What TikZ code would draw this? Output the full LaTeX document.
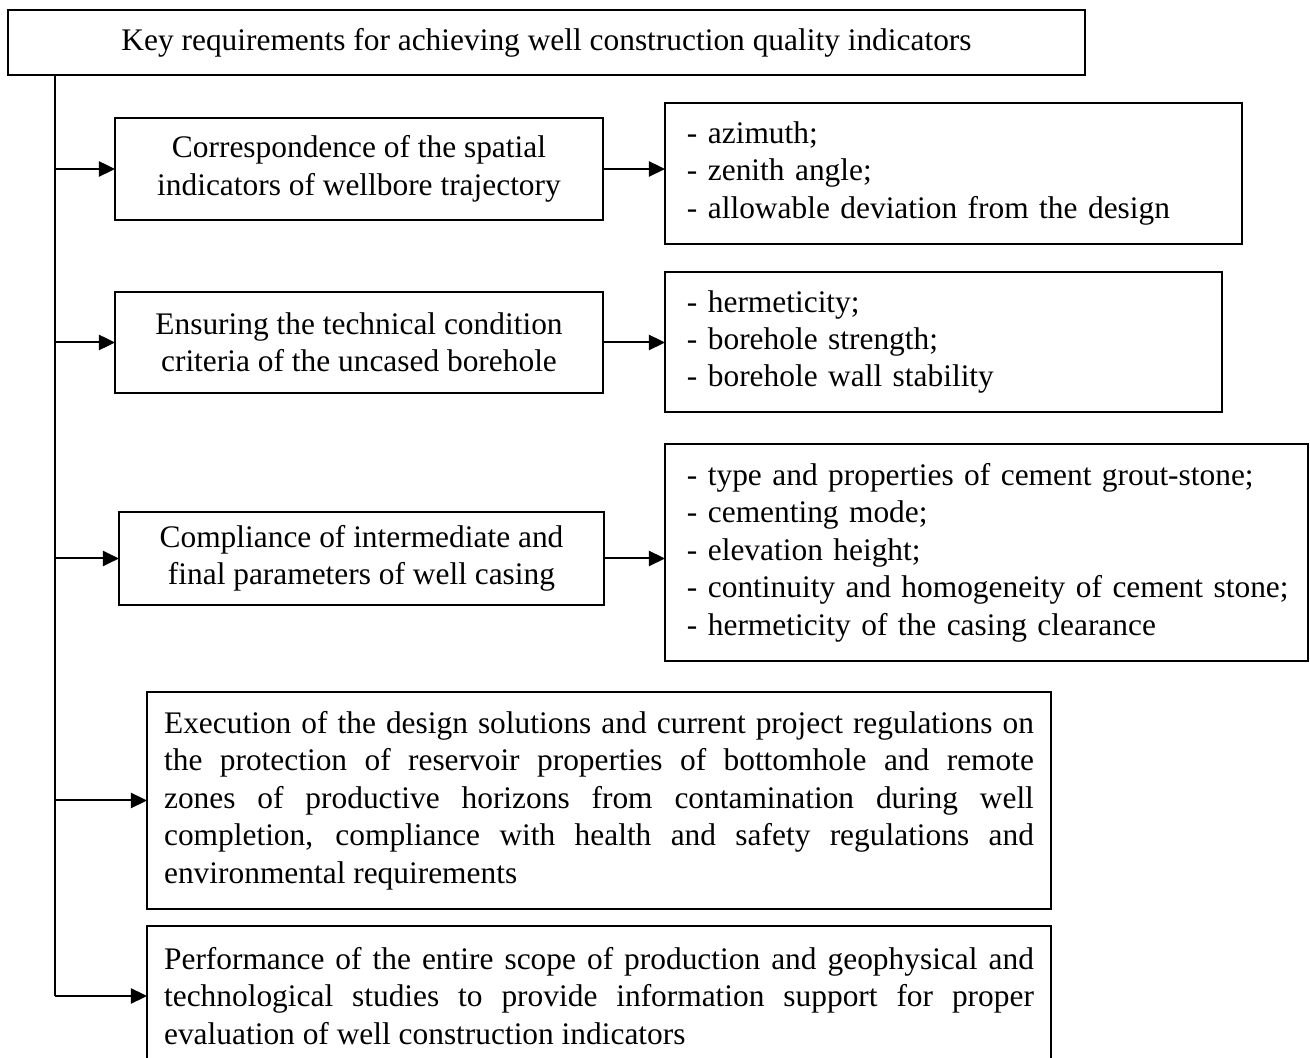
\documentclass[tikz,border=0pt]{standalone}
\usepackage{fontspec}
\setmainfont{Liberation Serif}
\usetikzlibrary{arrows.meta}
\begin{document}
\begin{tikzpicture}[x=0.43pt,y=-0.43pt,
  bx/.style={draw, line width=0.86pt, outer sep=0pt, inner sep=0pt,
    font=\fontsize{13.5pt}{16.1pt}\selectfont},
  ctr/.style={bx, align=center},
  lft/.style={bx, align=left},
  jst/.style={bx, align=justify},
  ln/.style={line width=0.86pt},
  arr/.style={line width=0.86pt, -{Triangle[length=6.9pt,width=6.5pt]}}]
\clip (0,0) rectangle (1310,1058);
\fill[white] (0,0) rectangle (1310,1058);

\node[ctr, minimum width=463.1pt, minimum height=27.95pt] (title) at (546.5,42.5)
  {Key requirements for achieving well construction quality indicators};

\node[ctr, minimum width=209.8pt, minimum height=43.9pt] (a1) at (359,169)
  {Correspondence of the spatial\\indicators of wellbore trajectory};
\node[lft, minimum width=248.1pt, minimum height=60.6pt, text width=229.2pt] (b1) at (953.5,173.5)
  {\mbox{- azimuth;}\\\mbox{- zenith angle;}\\\mbox{- allowable deviation from the design}};

\node[ctr, minimum width=209.8pt, minimum height=43.4pt] (a2) at (359,342.5)
  {Ensuring the technical condition\\criteria of the uncased borehole};
\node[lft, minimum width=239.5pt, minimum height=60.2pt, text width=220.6pt] (b2) at (943.5,342)
  {\mbox{- hermeticity;}\\\mbox{- borehole strength;}\\\mbox{- borehole wall stability}};

\node[ctr, minimum width=208.6pt, minimum height=40pt] (a3) at (361.5,558.5)
  {Compliance of intermediate and\\final parameters of well casing};
\node[lft, minimum width=276.5pt, minimum height=93.3pt, text width=257.6pt] (b3) at (986.5,552.5)
  {\mbox{- type and properties of cement grout-stone;}\\\mbox{- cementing mode;}\\\mbox{- elevation height;}\\\mbox{- continuity and homogeneity of cement stone;}\\\mbox{- hermeticity of the casing clearance}};

\node[jst, minimum width=388.7pt, minimum height=93.3pt, text width=374pt] (c) at (599,800.5)
  {Execution of the design solutions and current project regulations on\linebreak
   the protection of reservoir properties of bottomhole and remote\linebreak
   zones of productive horizons from contamination during well\linebreak
   completion, compliance with health and safety regulations and\linebreak
   environmental requirements};

\node[jst, minimum width=388.7pt, minimum height=60.2pt, text width=374pt] (d) at (599,996)
  {Performance of the entire scope of production and geophysical and\linebreak
   technological studies to provide information support for proper\linebreak
   evaluation of well construction indicators};

\coordinate (tr) at (55,75);
\draw[ln] (tr) -- (tr |- d.west);
\foreach \n in {a1,a2,a3,c,d}
  \draw[arr] (tr |- \n.west) -- (\n.west);
\draw[arr] (a1.east) -- (a1.east -| b1.west);
\draw[arr] (a2.east) -- (a2.east -| b2.west);
\draw[arr] (a3.east) -- (a3.east -| b3.west);
\end{tikzpicture}
\end{document}
